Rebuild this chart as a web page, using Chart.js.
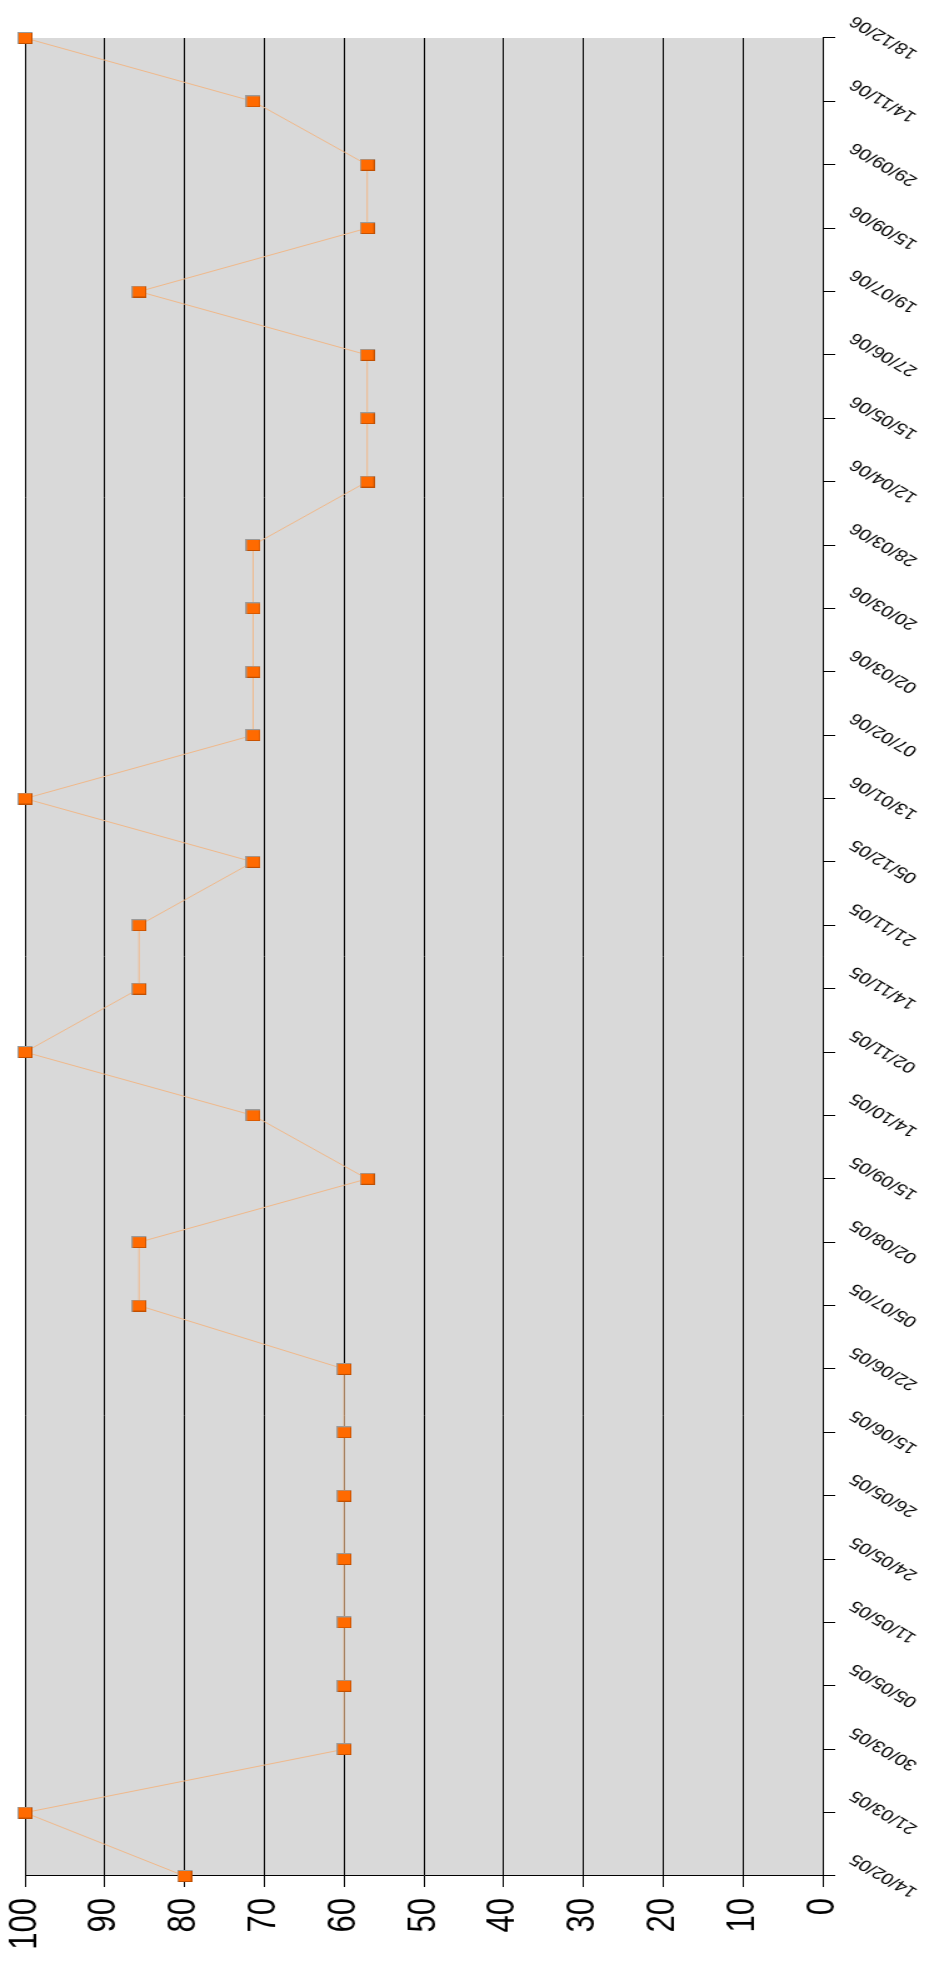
<!DOCTYPE html>
<html>
<head>
<meta charset="utf-8">
<script src="https://cdn.jsdelivr.net/npm/chart.js@4.4.1/dist/chart.umd.min.js"></script>
<style>
  html, body { margin: 0; padding: 0; background: #ffffff; overflow: hidden; }
  body { width: 929px; height: 1962px; position: relative; }
  #wrap {
    position: absolute; left: 0; top: 0;
    width: 1962px; height: 743px;
    transform-origin: 0 0;
    transform: translate(0px, 1962px) rotate(-90deg) scale(1, 1.250336);
  }
  #c { display: block; width: 1962px; height: 743px; }
</style>
</head>
<body>
<div id="wrap"><canvas id="c" width="1962" height="743"></canvas></div>
<script>
const categories = ['14/02/05','21/03/05','30/03/05','05/05/05','11/05/05','24/05/05','26/05/05','15/06/05','22/06/05','05/07/05','02/08/05','15/09/05','14/10/05','02/11/05','14/11/05','21/11/05','05/12/05','13/01/06','07/02/06','02/03/06','20/03/06','28/03/06','12/04/06','15/05/06','27/06/06','19/07/06','15/09/06','29/09/06','14/11/06','18/12/06'];
const seriesValues = [80,100,60,60,60,60,60,60,60,85.7,85.7,57.1,71.4,100,85.7,85.7,71.4,100,71.4,71.4,71.4,71.4,57.1,57.1,57.1,85.7,57.1,57.1,71.4,100];
const valueMin = 0;
const valueMax = 100;
const valueStep = 10;

const marker = document.createElement('canvas');
marker.width = 12; marker.height = 12;
(function(){
  const m = marker.getContext('2d');
  m.fillStyle = '#ff6a00';
  m.fillRect(0, 0, 12, 12);
  m.fillStyle = '#c24f00';
  m.fillRect(0, 11, 12, 1);
  m.fillRect(0, 0, 1, 12);
  m.fillStyle = '#9a9a9a';
  m.fillRect(0, 0, 12, 1);
  m.fillRect(11, 0, 1, 12);
})();

const plotBg = {
  id: 'plotBg',
  beforeDraw(chart) {
    const {ctx, chartArea: a} = chart;
    ctx.save();
    ctx.fillStyle = '#d9d9d9';
    ctx.fillRect(a.left, a.top, a.right - a.left, a.bottom - a.top);
    ctx.restore();
  }
};

new Chart(document.getElementById('c'), {
  type: 'line',
  data: {
    labels: categories,
    datasets: [{
      data: seriesValues,
      borderColor: '#f0b889',
      borderWidth: 1,
      tension: 0,
      fill: false,
      clip: false,
      pointStyle: marker,
      pointRadius: 7,
      pointHoverRadius: 7
    }]
  },
  options: {
    responsive: false,
    devicePixelRatio: 1,
    animation: false,
    events: [],
    layout: { padding: { top: 20, right: 38, left: 0, bottom: 0 } },
    plugins: { legend: { display: false }, tooltip: { enabled: false } },
    scales: {
      x: {
        type: 'category',
        offset: false,
        grid: { drawOnChartArea: false, drawTicks: true, tickLength: 10, color: '#000000', lineWidth: 1 },
        border: { display: true, color: '#000000', width: 1 },
        ticks: {
          autoSkip: false,
          minRotation: 54,
          maxRotation: 54,
          labelOffset: 19,
          padding: 8,
          color: '#000000',
          font: { family: "'Liberation Sans', Arial, sans-serif", size: 16 }
        },
        afterFit(s) { s.height = 85; s.paddingLeft = 0; s.paddingRight = 0; }
      },
      y: {
        min: valueMin,
        max: valueMax,
        grid: { color: '#000000', lineWidth: 1, tickLength: 11, drawTicks: true },
        border: { display: true, color: '#000000', width: 1 },
        ticks: {
          stepSize: valueStep,
          padding: 11,
          color: '#000000',
          font: { family: "'Liberation Sans', Arial, sans-serif", size: 31 }
        },
        afterFit(s) { s.width = 86; s.paddingTop = 0; s.paddingBottom = 0; }
      }
    }
  },
  plugins: [plotBg]
});
</script>
</body>
</html>
